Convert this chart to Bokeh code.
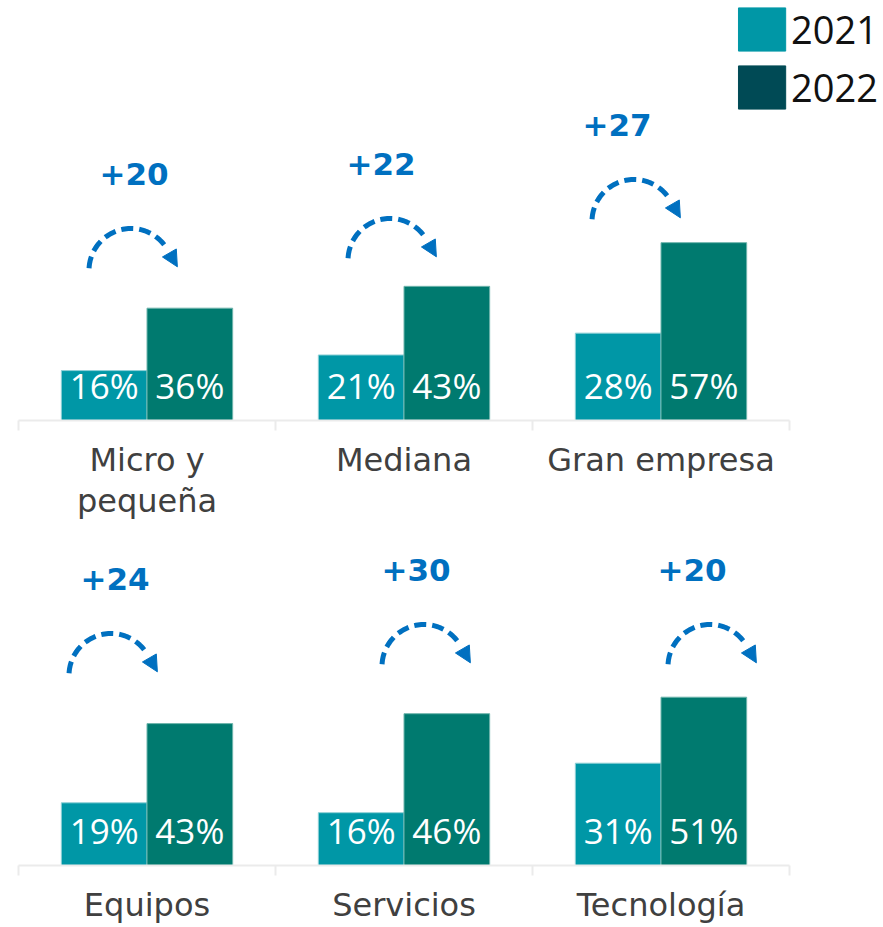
import math
from bokeh.plotting import figure
from bokeh.models import (Range1d, FixedTicker, Legend, LegendItem, Arrow,
                          NormalHead, ColumnDataSource)
from bokeh.layouts import column
from bokeh.embed import file_html
from bokeh.resources import INLINE
from bokeh.core.properties import value
from bokeh.transform import dodge

# ---------------- data ----------------
top_categories = ["Micro y\npequeña", "Mediana", "Gran empresa"]
top_2021 = [16, 21, 28]
top_2022 = [36, 43, 57]
top_change = [20, 22, 27]

bottom_categories = ["Equipos", "Servicios", "Tecnología"]
bottom_2021 = [19, 16, 31]
bottom_2022 = [43, 46, 51]
bottom_change = [24, 30, 20]

legend_labels = ["2021", "2022"]

# ---------------- style / layout ----------------
C2021 = "#0097A6"
C2022 = "#007A6F"
LEG2022 = "#004A55"
BLUE = "#0070C0"
AXIS_GRAY = "#EBEBEB"
FIG_W = 880
LEFT = 18
CAT_PX = 257                      # pixels per category
FRAME_W = FIG_W - LEFT
X_END = FRAME_W / CAT_PX

# annotation placement (pixels): arc-centre x offset from group centre,
# arc-centre height above the baseline, label x offset from arc centre
top_arc_dx = [-16, -14, -27]
top_arc_h = [150, 160, 199]
top_lab_dx = [3, -9, -17]
bottom_arc_dx = [-36, 20, 49]
bottom_arc_h = [190, 199, 199]
bottom_lab_dx = [4, -8, -18]


def make_panel(cats, v21, v22, change, frame_h, px_per_unit, border_bottom,
               arc_dx, arc_h, lab_dx):
    y_end = frame_h / px_per_unit
    p = figure(frame_width=FRAME_W, frame_height=frame_h,
               x_range=Range1d(0, X_END), y_range=Range1d(0, y_end),
               output_backend="svg", toolbar_location=None,
               min_border_left=LEFT, min_border_right=0,
               min_border_top=0, min_border_bottom=border_bottom)
    p.outline_line_color = None
    p.xgrid.visible = False
    p.ygrid.visible = False
    p.yaxis.visible = False
    p.background_fill_color = "white"

    centers = [i + 0.5 for i in range(len(cats))]
    src = ColumnDataSource(dict(
        x=centers, a=v21, b=v22,
        la=[f"{v}%" for v in v21], lb=[f"{v}%" for v in v22]))

    p.vbar(x=dodge("x", -1 / 6), top="a", width=1 / 3, source=src,
           fill_color=C2021, line_color="#8fd0d6", line_width=1)
    p.vbar(x=dodge("x", 1 / 6), top="b", width=1 / 3, source=src,
           fill_color=C2022, line_color="#6fb5ad", line_width=1)

    for fld, off in (("la", -1 / 6), ("lb", 1 / 6)):
        p.text(x=dodge("x", off), y=0, text=fld, source=src,
               y_offset=-35, text_align="center", text_baseline="alphabetic",
               text_color="white", text_font=value("Open Sans"),
               text_font_size="35px")

    # dashed curved arrows + change labels
    sx = CAT_PX
    sy = px_per_unit
    xs_all, ys_all, cxs, cys = [], [], [], []
    for i, c in enumerate(centers):
        cx = c + arc_dx[i] / sx
        cy = arc_h[i] / sy
        r = 42.0
        thetas = [math.radians(177 - k * (147 / 60)) for k in range(61)]
        xs = [cx + r * math.cos(t) / sx for t in thetas]
        ys = [cy + r * math.sin(t) / sy for t in thetas]
        xs_all.append(xs)
        ys_all.append(ys)
        cxs.append(cx)
        cys.append(cy)
        te = thetas[-1]
        ex, ey = xs[-1], ys[-1]
        tx = ex + 20 * math.sin(te) / sx
        ty = ey - 20 * math.cos(te) / sy
        p.add_layout(Arrow(end=NormalHead(size=16, fill_color=BLUE,
                                          line_color=BLUE, line_width=1),
                           x_start=ex, y_start=ey, x_end=tx, y_end=ty,
                           line_alpha=0))
    p.multi_line(xs_all, ys_all, line_color=BLUE, line_width=5,
                 line_dash="12 6")

    lsrc = ColumnDataSource(dict(x=cxs, y=cys, dx=lab_dx,
                                 t=[f"+{v}" for v in change]))
    p.text(x="x", y="y", text="t", x_offset="dx", y_offset=-97, source=lsrc,
           text_align="center", text_baseline="alphabetic", text_color=BLUE,
           text_font=value("DejaVu Sans"), text_font_style="bold",
           text_font_size="31px")

    ax = p.xaxis[0]
    ax.bounds = (0, len(cats))
    ax.ticker = FixedTicker(ticks=centers,
                            minor_ticks=list(range(len(cats) + 1)))
    ax.major_label_overrides = {c: n for c, n in zip(centers, cats)}
    ax.major_tick_line_color = None
    ax.major_tick_out = 0
    ax.major_tick_in = 0
    ax.minor_tick_line_color = AXIS_GRAY
    ax.minor_tick_out = 10
    ax.minor_tick_in = 0
    ax.minor_tick_line_width = 2
    ax.axis_line_color = AXIS_GRAY
    ax.axis_line_width = 2
    ax.major_label_text_font = "DejaVu Sans"
    ax.major_label_text_font_size = "32px"
    ax.major_label_text_color = "#404040"
    ax.major_label_standoff = 10
    ax.major_label_text_line_height = 1.1
    return p, src


p1, src1 = make_panel(top_categories, top_2021, top_2022, top_change,
                      420, 3.12, 100, top_arc_dx, top_arc_h, top_lab_dx)
p2, src2 = make_panel(bottom_categories, bottom_2021, bottom_2022,
                      bottom_change, 342, 3.3, 60, bottom_arc_dx,
                      bottom_arc_h, bottom_lab_dx)

# legend swatches (hidden renderers that only supply the legend colours)
r1 = p1.vbar(x=dodge("x", -1 / 6), top="a", width=1 / 3, source=src1,
             fill_color=C2021, line_color=C2021, visible=False)
r2 = p1.vbar(x=dodge("x", 1 / 6), top="b", width=1 / 3, source=src1,
             fill_color=LEG2022, line_color=LEG2022, visible=False)
legend = Legend(items=[LegendItem(label=legend_labels[0], renderers=[r1], index=0),
                       LegendItem(label=legend_labels[1], renderers=[r2], index=0)],
                location="top_right", glyph_width=59, glyph_height=54,
                spacing=4, padding=4, margin=2, label_standoff=0,
                label_height=54, label_text_font="Open Sans",
                label_text_font_size="38px", label_text_color="#111111",
                background_fill_alpha=0, border_line_color=None)
p1.add_layout(legend)

layout = column(p1, p2, spacing=0)
open("out.html", "w").write(file_html(layout, INLINE))
